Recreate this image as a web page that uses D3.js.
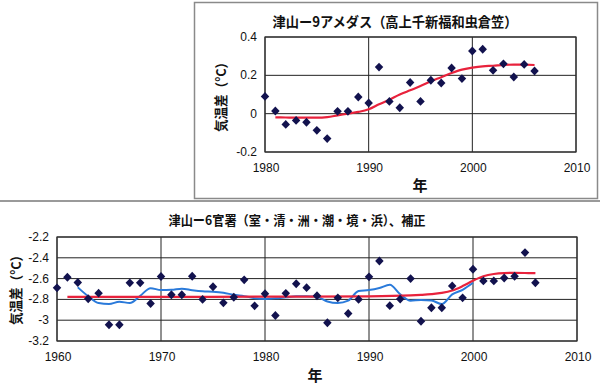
<!DOCTYPE html>
<html>
<head>
<meta charset="utf-8">
<script src="https://cdn.jsdelivr.net/npm/d3@7"></script>
<style>
  body { margin: 0; background: #fff; }
  svg { display: block; }
  .tick-label { font-family: "Liberation Sans", Arial, sans-serif; font-size: 12px; fill: #111; }
  .jp { font-family: "Noto Sans CJK JP", sans-serif; fill: #111; }
</style>
</head>
<body>
<div id="chart"></div>
<script>
// --- top chart: 津山-9アメダス ---
const amedasYears = [1980, 1981, 1982, 1983, 1984, 1985, 1986, 1987, 1988, 1989, 1990, 1991, 1992, 1993,
  1994, 1995, 1996, 1997, 1998, 1999, 2000, 2001, 2002, 2003, 2004, 2005, 2006];
const amedasDiff = [0.09, 0.014, -0.056, -0.035, -0.045, -0.087, -0.13, 0.012, 0.012, 0.087, 0.056, 0.243,
  0.064, 0.031, 0.163, 0.064, 0.174, 0.16, 0.238, 0.183, 0.327, 0.336, 0.226, 0.26, 0.191, 0.257, 0.223];
const amedasTrendYears = [1981, 1982, 1983, 1984, 1985, 1986, 1987, 1988, 1989, 1990, 1991, 1992, 1993,
  1994, 1995, 1996, 1997, 1998, 1999, 2000, 2001, 2002, 2003, 2004, 2005, 2006];
const amedasTrend = [-0.019, -0.02, -0.021, -0.021, -0.021, -0.018, -0.009, 0.0, 0.009, 0.023, 0.049, 0.073,
  0.1, 0.122, 0.144, 0.169, 0.19, 0.212, 0.23, 0.24, 0.247, 0.25, 0.254, 0.256, 0.256, 0.254];
const amedasYTicks = [0.4, 0.2, 0, -0.2];
const amedasXTicks = [1980, 1990, 2000, 2010];

// --- bottom chart: 津山-6官署 ---
const kanshoYears = [1960, 1961, 1962, 1963, 1964, 1965, 1966, 1967, 1968, 1969, 1970, 1971, 1972, 1973,
  1974, 1975, 1976, 1977, 1978, 1979, 1980, 1981, 1982, 1983, 1984, 1985, 1986, 1987, 1988, 1989, 1990,
  1991, 1992, 1993, 1994, 1995, 1996, 1997, 1998, 1999, 2000, 2001, 2002, 2003, 2004, 2005, 2006];
const kanshoDiff = [-2.689, -2.587, -2.638, -2.794, -2.74, -3.043, -3.043, -2.641, -2.641, -2.839, -2.58,
  -2.756, -2.756, -2.577, -2.8, -2.679, -2.833, -2.78, -2.612, -2.862, -2.745, -2.955, -2.742, -2.65,
  -2.687, -2.765, -3.025, -2.785, -2.935, -2.8, -2.583, -2.43, -2.86, -2.797, -2.6, -3.01, -2.88, -2.88,
  -2.67, -2.785, -2.51, -2.622, -2.622, -2.594, -2.578, -2.35, -2.64];
const kanshoAvgYears = [1962, 1963, 1964, 1965, 1966, 1967, 1968, 1969, 1970, 1971, 1972, 1973, 1974,
  1975, 1976, 1977, 1978, 1979, 1980, 1981, 1982, 1983, 1984, 1985, 1986, 1987, 1988, 1989, 1990, 1991,
  1992, 1993, 1994, 1995, 1996, 1997, 1998, 1999, 2000];
const kanshoAvg = [-2.684, -2.77, -2.835, -2.845, -2.822, -2.835, -2.765, -2.692, -2.71, -2.708, -2.697,
  -2.711, -2.722, -2.727, -2.737, -2.756, -2.769, -2.788, -2.795, -2.79, -2.78, -2.77, -2.77, -2.775,
  -2.82, -2.835, -2.812, -2.72, -2.71, -2.69, -2.66, -2.75, -2.812, -2.805, -2.81, -2.845, -2.752,
  -2.708, -2.64];
const kanshoTrendYears = [1961, 1970, 1980, 1990, 1994, 1995, 1996, 1997, 1998, 1999, 2000, 2001, 2002,
  2003, 2004, 2005, 2006];
const kanshoTrend = [-2.775, -2.775, -2.774, -2.77, -2.762, -2.757, -2.75, -2.738, -2.715, -2.672, -2.62,
  -2.578, -2.556, -2.547, -2.545, -2.546, -2.548];
const kanshoYTicks = [-2.2, -2.4, -2.6, -2.8, -3, -3.2];
const kanshoXTicks = [1960, 1970, 1980, 1990, 2000, 2010];

const svg = d3.select('#chart').append('svg')
    .attr('width', 600)
    .attr('height', 384);

svg.append('rect').attr('width', 600).attr('height', 384).attr('fill', '#fff');

// frame round the top chart and the divider line
svg.append('rect')
    .attr('x', 194.5).attr('y', 2.5)
    .attr('width', 403).attr('height', 196)
    .attr('fill', 'none').attr('stroke', '#8a8a8a').attr('stroke-width', 1.5);
svg.append('line')
    .attr('x1', 0).attr('x2', 600).attr('y1', 201).attr('y2', 201)
    .attr('stroke', '#9a9a9a').attr('stroke-width', 2);

const diamond = {
    draw(ctx, size) {
        const r = Math.sqrt(size / 2);
        ctx.moveTo(0, -r * 1.05);
        ctx.lineTo(r, 0);
        ctx.lineTo(0, r * 1.05);
        ctx.lineTo(-r, 0);
        ctx.closePath();
    }
};

function drawChart(cfg) {
    const x = d3.scaleLinear().domain(cfg.xDomain).range([cfg.left, cfg.right]);
    const y = d3.scaleLinear().domain(cfg.yDomain).range([cfg.bottom, cfg.top]);
    const g = svg.append('g');

    // gridlines
    g.append('g').selectAll('line')
        .data(cfg.yTicks)
        .enter().append('line')
        .attr('x1', cfg.left).attr('x2', cfg.right)
        .attr('y1', d => y(d)).attr('y2', d => y(d))
        .attr('stroke', '#222').attr('stroke-width', 1);
    g.append('g').selectAll('line')
        .data(cfg.xTicks)
        .enter().append('line')
        .attr('x1', d => x(d)).attr('x2', d => x(d))
        .attr('y1', cfg.top).attr('y2', cfg.bottom)
        .attr('stroke', '#222').attr('stroke-width', 1);
    g.append('rect')
        .attr('x', cfg.left).attr('y', cfg.top)
        .attr('width', cfg.right - cfg.left).attr('height', cfg.bottom - cfg.top)
        .attr('fill', 'none').attr('stroke', '#333').attr('stroke-width', 1.2);

    // tick labels
    g.append('g').selectAll('text')
        .data(cfg.yTicks)
        .enter().append('text')
        .attr('class', 'tick-label')
        .attr('x', cfg.left - 8)
        .attr('y', d => y(d) + 4)
        .attr('text-anchor', 'end')
        .text(d => String(d));
    g.append('g').selectAll('text')
        .data(cfg.xTicks)
        .enter().append('text')
        .attr('class', 'tick-label')
        .attr('x', d => x(d) + 1)
        .attr('y', cfg.bottom + 20)
        .attr('text-anchor', 'middle')
        .text(d => d);

    // titles
    g.append('text')
        .attr('class', 'jp')
        .attr('x', cfg.titleX).attr('y', cfg.titleY)
        .attr('text-anchor', 'middle')
        .attr('font-size', cfg.titleSize)
        .attr('font-weight', 'bold')
        .attr('textLength', cfg.titleWidth)
        .attr('lengthAdjust', 'spacingAndGlyphs')
        .text(cfg.title);
    g.append('text')
        .attr('class', 'jp')
        .attr('x', cfg.xLabelX).attr('y', cfg.xLabelY)
        .attr('text-anchor', 'middle')
        .attr('font-size', 15)
        .attr('font-weight', 'bold')
        .text('年');
    g.append('text')
        .attr('class', 'jp')
        .attr('transform', `translate(${cfg.yLabelX},${cfg.yLabelY}) rotate(-90)`)
        .attr('text-anchor', 'middle')
        .attr('dominant-baseline', 'central')
        .attr('font-size', 13.5)
        .attr('font-weight', 'bold')
        .attr('textLength', 76)
        .attr('lengthAdjust', 'spacingAndGlyphs')
        .text('気温差（°C）');

    // series
    const line = d3.line()
        .x(d => x(d[0]))
        .y(d => y(d[1]))
        .curve(d3.curveMonotoneX);

    if (cfg.avgYears) {
        g.append('path')
            .datum(d3.zip(cfg.avgYears, cfg.avgValues))
            .attr('d', line)
            .attr('fill', 'none')
            .attr('stroke', '#2a7ada')
            .attr('stroke-width', 2);
    }

    g.append('path')
        .datum(d3.zip(cfg.trendYears, cfg.trendValues))
        .attr('d', line)
        .attr('fill', 'none')
        .attr('stroke', '#e8223c')
        .attr('stroke-width', 2.2);

    g.append('g').selectAll('path')
        .data(d3.zip(cfg.years, cfg.values))
        .enter().append('path')
        .attr('transform', d => `translate(${x(d[0])},${y(d[1])})`)
        .attr('d', d3.symbol().type(diamond).size(36))
        .attr('fill', '#12124e');
}

drawChart({
    title: '津山ー9アメダス（高上千新福和虫倉笠）',
    titleX: 395, titleY: 27, titleSize: 14, titleWidth: 245,
    xLabelX: 420, xLabelY: 191,
    yLabelX: 220, yLabelY: 94,
    left: 265, right: 576, top: 37, bottom: 152,
    xDomain: [1980, 2010], yDomain: [-0.2, 0.4],
    xTicks: amedasXTicks, yTicks: amedasYTicks,
    years: amedasYears, values: amedasDiff,
    trendYears: amedasTrendYears, trendValues: amedasTrend
});

drawChart({
    title: '津山ー6官署（室・清・洲・潮・境・浜）、補正',
    titleX: 297, titleY: 225, titleSize: 13, titleWidth: 257,
    xLabelX: 315, xLabelY: 381,
    yLabelX: 15, yLabelY: 287,
    left: 57, right: 577, top: 237, bottom: 341,
    xDomain: [1960, 2010], yDomain: [-3.2, -2.2],
    xTicks: kanshoXTicks, yTicks: kanshoYTicks,
    years: kanshoYears, values: kanshoDiff,
    avgYears: kanshoAvgYears, avgValues: kanshoAvg,
    trendYears: kanshoTrendYears, trendValues: kanshoTrend
});
</script>
</body>
</html>
